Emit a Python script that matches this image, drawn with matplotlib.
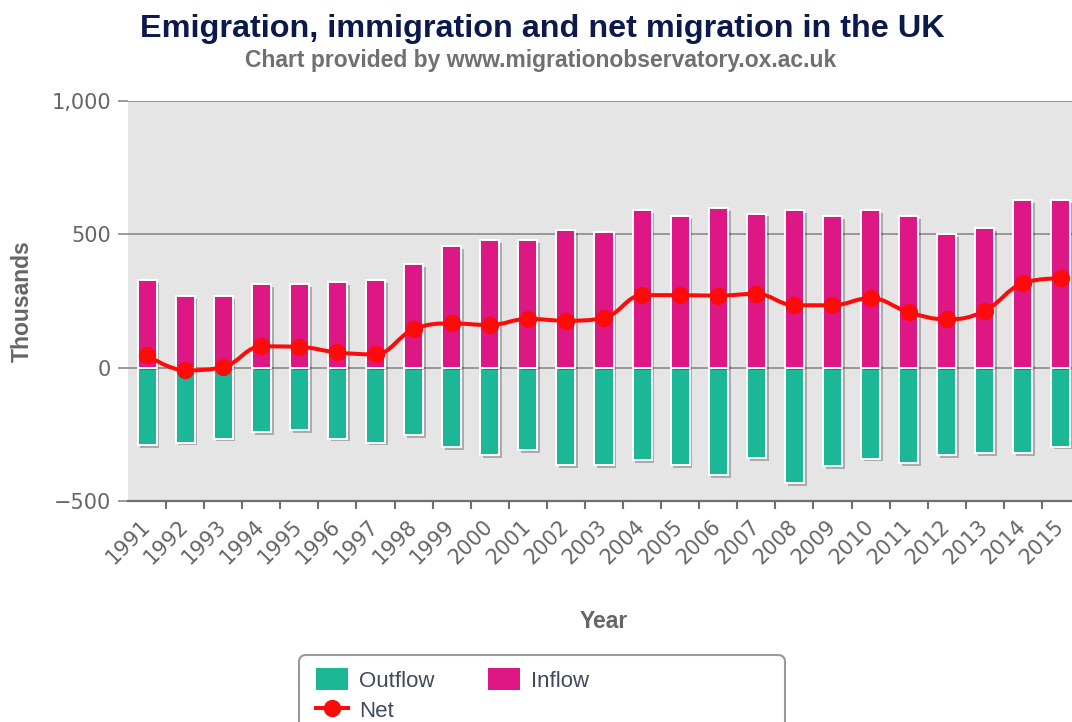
import numpy as np
import matplotlib
matplotlib.use("Agg")
import matplotlib.pyplot as plt
import matplotlib.patheffects as pe
from matplotlib.path import Path
from matplotlib.patches import PathPatch, FancyBboxPatch, Patch
from matplotlib.lines import Line2D
from matplotlib.ticker import FuncFormatter

# data (thousands)
years = [str(y) for y in range(1991, 2016)]
inflow = [327, 267, 267, 312, 312, 320, 327, 387, 455, 478, 478, 516, 508,
          592, 569, 599, 578, 592, 569, 592, 569, 500, 522, 628, 628]
outflow = [-290, -281, -266, -242, -234, -266, -281, -252, -297, -328, -310, -365, -365,
           -348, -365, -403, -340, -432, -370, -341, -357, -328, -319, -319, -296]
net = [46, -10, 2, 80, 78, 57, 50, 144, 166, 160, 183, 176, 186,
       272, 272, 270, 277, 234, 234, 261, 208, 181, 213, 317, 336]

c_out = "#1cb797"
c_in = "#dd1783"
c_net = "#ff0a0a"
grey = "#666666"


def spline_path(xs, ys, smoothing=1.5):
    # highcharts-style spline: bezier control points around each point
    n = len(xs)
    denom = smoothing + 1
    lc = [(x, y) for x, y in zip(xs, ys)]
    rc = list(lc)
    for i in range(1, n - 1):
        px, py = xs[i], ys[i]
        lx, ly = xs[i - 1], ys[i - 1]
        nx, ny = xs[i + 1], ys[i + 1]
        lcx = (smoothing * px + lx) / denom
        lcy = (smoothing * py + ly) / denom
        rcx = (smoothing * px + nx) / denom
        rcy = (smoothing * py + ny) / denom
        corr = (rcy - lcy) * (rcx - px) / (rcx - lcx) + py - rcy
        lcy += corr
        rcy += corr
        if lcy > ly and lcy > py:
            lcy = max(ly, py)
            rcy = 2 * py - lcy
        elif lcy < ly and lcy < py:
            lcy = min(ly, py)
            rcy = 2 * py - lcy
        if rcy > ny and rcy > py:
            rcy = max(ny, py)
            lcy = 2 * py - rcy
        elif rcy < ny and rcy < py:
            rcy = min(ny, py)
            lcy = 2 * py - rcy
        lc[i] = (lcx, lcy)
        rc[i] = (rcx, rcy)
    verts = [(xs[0], ys[0])]
    codes = [Path.MOVETO]
    for i in range(1, n):
        verts += [rc[i - 1], lc[i], (xs[i], ys[i])]
        codes += [Path.CURVE4] * 3
    return Path(verts, codes)


W, H = 1072, 722
fig = plt.figure(figsize=(W / 100, H / 100), dpi=100)
ax = fig.add_axes([128 / W, (H - 501) / H, 952 / W, 400 / H])
ax.set_facecolor("#e5e5e5")

x = np.arange(len(years))
shadow = [pe.SimplePatchShadow(offset=(2, -2), shadow_rgbFace="black", alpha=0.25), pe.Normal()]
b1 = ax.bar(x, outflow, width=0.5, color=c_out, edgecolor="white", linewidth=1.4, zorder=3)
b2 = ax.bar(x, inflow, width=0.5, color=c_in, edgecolor="white", linewidth=1.4, zorder=3)
for b in list(b1) + list(b2):
    b.set_path_effects(shadow)

ax.add_patch(PathPatch(spline_path(list(x), net), facecolor="none", edgecolor=c_net,
                       lw=2.9, zorder=4, capstyle="round", joinstyle="round"))
ax.plot(x, net, linestyle="none", marker="o", markersize=11.5, color=c_net, zorder=5)

ax.set_xlim(-0.5, 24.5)
ax.set_ylim(-500, 1000)
ax.set_yticks([-500, 0, 500, 1000])
ax.yaxis.set_major_formatter(FuncFormatter(lambda v, p: f"{v:,.0f}".replace("-", "\u2212")))
ax.grid(axis="y", color="#8a8a8a", lw=1.2, zorder=1)
ax.set_axisbelow(True)
for s in ["top", "right", "left"]:
    ax.spines[s].set_visible(False)
ax.spines["bottom"].set_color("#6f6f6f")
ax.spines["bottom"].set_linewidth(1.6)
ax.spines["bottom"].set_zorder(2)

ax.tick_params(axis="y", length=7.2, width=1.2, color="#8a8a8a", pad=5,
               labelsize=15, labelcolor=grey)
ax.set_xticks(np.arange(0.5, 24, 1))
ax.set_xticklabels([])
ax.tick_params(axis="x", which="major", length=6, width=1.5, color="#6f6f6f")
ax.set_xticks(x, minor=True)
ax.set_xticklabels(years, minor=True, rotation=45, ha="right", va="center",
                   rotation_mode="anchor", fontsize=15, color=grey)
ax.tick_params(axis="x", which="minor", length=0, pad=16)

ax.set_ylabel("Thousands", fontsize=16.5, fontweight="bold", color=grey,
              family="Liberation Sans")
ax.yaxis.set_label_coords(-(128 - 22) / 952, 0.5)
ax.set_xlabel("Year", fontsize=16.5, fontweight="bold", color=grey, family="Liberation Sans")
ax.xaxis.set_label_coords(0.5, -(622 - 501) / 400)
ax.xaxis.label.set_va("center")
ax.yaxis.label.set_va("center")

fig.text(542 / W, 1 - 29 / H, "Emigration, immigration and net migration in the UK",
         ha="center", va="center", fontsize=23.3, fontweight="bold", color="#0c1a4b",
         family="Liberation Sans")
fig.text(541 / W, 1 - 61 / H, "Chart provided by www.migrationobservatory.ox.ac.uk",
         ha="center", va="center", fontsize=16.5, fontweight="bold", color="#707070",
         family="Liberation Sans")

# legend box (cut off at the bottom like the reference)
frame = FancyBboxPatch((2.99, -0.3), 4.86, 0.97, boxstyle="round,pad=0,rounding_size=0.07",
                       transform=fig.dpi_scale_trans, facecolor="white", edgecolor="#999999",
                       lw=1.5, zorder=0)
fig.patches.append(frame)
handles = [Patch(facecolor=c_out, edgecolor="none"),
           Line2D([], [], color=c_net, lw=2.9, marker="o", markersize=11.5),
           Patch(facecolor=c_in, edgecolor="none")]
labels = ["Outflow", "Net", "Inflow"]
fig.legend(handles, labels, loc="upper left", bbox_to_anchor=(316 / W, 1 - 668 / H),
           ncol=2, frameon=False, borderpad=0, borderaxespad=0, handlelength=1.44,
           handleheight=1.15, handletextpad=0.5, columnspacing=2.4, labelspacing=0.3,
           prop={"family": "Liberation Sans", "size": 16}, labelcolor="#3d4b5a")

fig.savefig("out.png", dpi=100)
